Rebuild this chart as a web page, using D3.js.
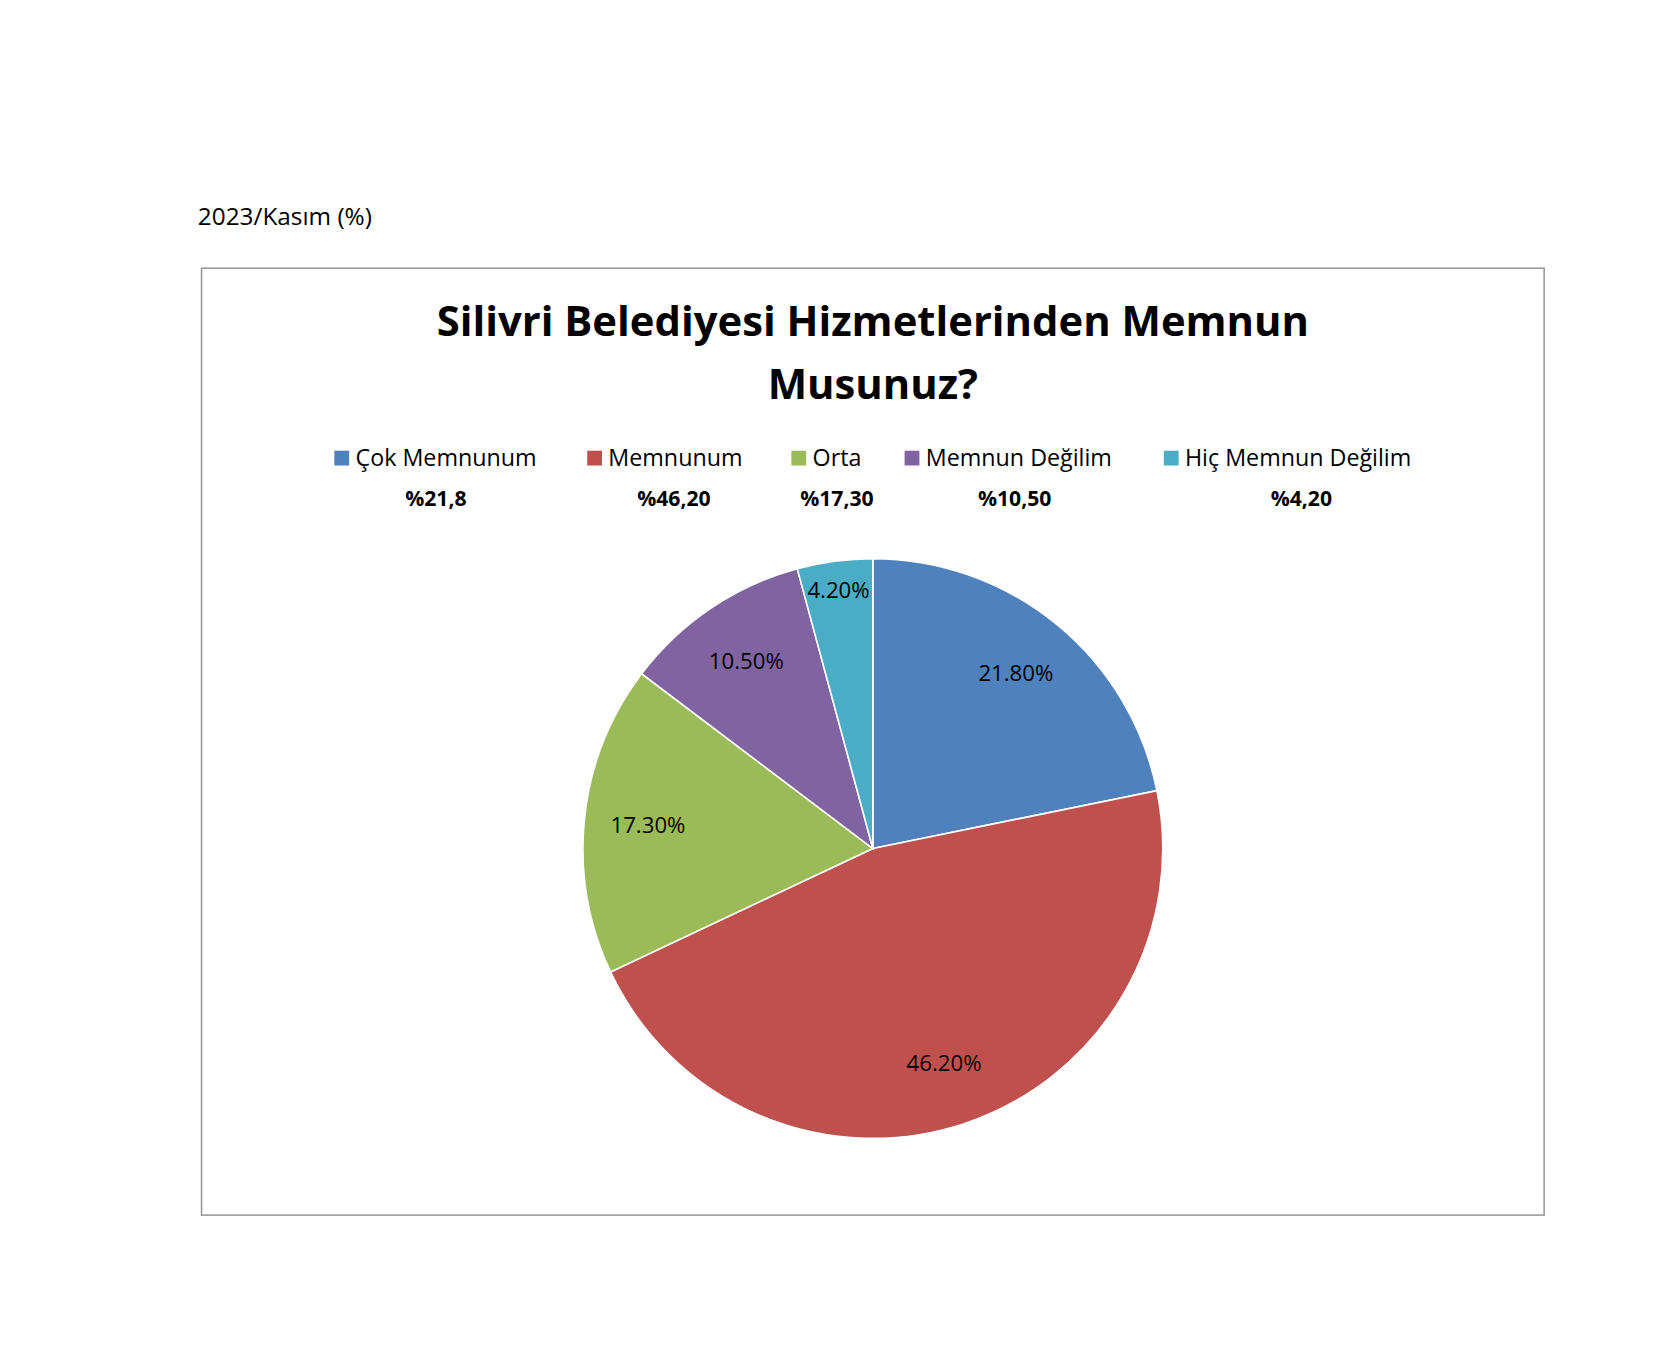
<!DOCTYPE html>
<html><head><meta charset="utf-8">
<script src="https://cdn.jsdelivr.net/npm/d3@7"></script>
<style>body{margin:0;background:#fff}</style>
</head><body>
<script>
const categories = ["Çok Memnunum", "Memnunum", "Orta", "Memnun Değilim", "Hiç Memnun Değilim"];
const values = [21.8, 46.2, 17.3, 10.5, 4.2];
const colors = ["#4F81BD", "#C0504D", "#9BBB59", "#8064A2", "#4BACC6"];
const extraLabels = ["%21,8", "%46,20", "%17,30", "%10,50", "%4,20"];

const font = "Open Sans, Liberation Sans, sans-serif";
const svg = d3.select("body").append("svg").attr("width", 1654).attr("height", 1354);
// layout measured on a 0.945 preview, so scale back up
const root = svg.append("g").attr("transform", "scale(1.058)");

root.append("text").attr("x", 187).attr("y", 213).attr("font-family", font)
  .attr("font-size", 23).text("2023/Kasım (%)");

root.append("rect").attr("x", 190.5).attr("y", 253.5).attr("width", 1269).attr("height", 895)
  .attr("fill", "none").attr("stroke", "#999").attr("stroke-width", 1.5);

const title = root.append("text").attr("text-anchor", "middle").attr("font-family", font)
  .attr("font-weight", "bold").attr("font-size", 39.5);
title.append("tspan").attr("x", 825).attr("y", 318).text("Silivri Belediyesi Hizmetlerinden Memnun");
title.append("tspan").attr("x", 825).attr("y", 377).text("Musunuz?");

// legend
const legendX = [316, 555, 748, 855, 1100];
const extraX = [412, 637, 791, 959, 1230];
const lg = root.append("g");
categories.forEach((c, i) => {
  lg.append("rect").attr("x", legendX[i]).attr("y", 426).attr("width", 14).attr("height", 14).attr("fill", colors[i]);
  lg.append("text").attr("x", legendX[i] + 20).attr("y", 440).attr("font-family", font)
    .attr("font-size", 22).text(c);
  lg.append("text").attr("x", extraX[i]).attr("y", 478).attr("text-anchor", "middle").attr("font-family", font)
    .attr("font-weight", "bold").attr("font-size", 20).text(extraLabels[i]);
});

// pie
const cx = 825, cy = 802, r = 274;
const pie = d3.pie().sort(null).value(d => d)(values);
const arc = d3.arc().innerRadius(0).outerRadius(r);
const labelArc = d3.arc().innerRadius(r * 0.78).outerRadius(r * 0.78);
const g = root.append("g").attr("transform", `translate(${cx},${cy})`);
g.selectAll("path").data(pie).enter().append("path")
  .attr("d", arc).attr("fill", (d, i) => colors[i]).attr("stroke", "#fff").attr("stroke-width", 1.5);
g.selectAll("text.lbl").data(pie).enter().append("text").attr("class", "lbl")
  .attr("transform", (d, i) => {
    let p = labelArc.centroid(d);
    if (i === 4) p = d3.arc().innerRadius(r * 0.9).outerRadius(r * 0.9).centroid(d);
    return `translate(${p})`;
  })
  .attr("text-anchor", "middle").attr("dy", "0.35em").attr("font-family", font).attr("font-size", 21)
  .text(d => d.data.toFixed(2) + "%");
</script>
</body></html>
